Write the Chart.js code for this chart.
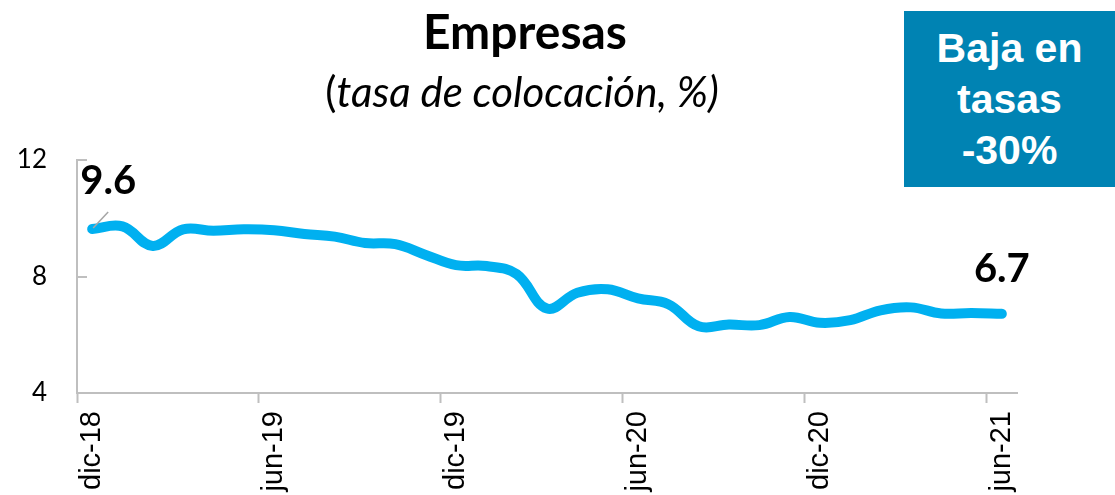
<!DOCTYPE html>
<html><head><meta charset="utf-8">
<script src="https://cdn.jsdelivr.net/npm/chart.js@4.4.1/dist/chart.umd.min.js"></script>
<style>
html,body{margin:0;padding:0;background:#fff;}
#wrap{position:relative;width:1115px;height:495px;overflow:hidden;background:#fff;}
#c{position:absolute;left:0;top:0;}
#title{position:absolute;left:275px;width:500px;top:6px;text-align:center;font-family:Lato,sans-serif;font-weight:700;font-size:48px;line-height:50px;color:#000;}
#subtitle{position:absolute;left:222px;width:600px;top:66px;text-align:center;font-family:Lato,sans-serif;font-size:42px;line-height:50px;color:#000;}
#subtitle i{font-style:italic;}
#box{position:absolute;left:904px;top:11px;width:211px;height:176px;background:#0083B3;color:#fff;text-align:center;font-family:"Liberation Sans",Arial,sans-serif;font-weight:700;font-size:41px;line-height:51px;}
#box div{padding-top:12px;}
</style></head>
<body>
<div id="wrap">
<canvas id="c" width="1115" height="495"></canvas>
<div id="title">Empresas</div>
<div id="subtitle">(<i>tasa de colocación, %)</i></div>
<div id="box"><div>Baja en<br>tasas<br>-30%</div></div>
</div>
<script>
const months = ['dic-18','ene-19','feb-19','mar-19','abr-19','may-19','jun-19','jul-19','ago-19','sep-19','oct-19','nov-19',
  'dic-19','ene-20','feb-20','mar-20','abr-20','may-20','jun-20','jul-20','ago-20','sep-20','oct-20','nov-20',
  'dic-20','ene-21','feb-21','mar-21','abr-21','may-21','jun-21'];
const tasa = [9.63, 9.72, 9.05, 9.62, 9.57, 9.62, 9.59, 9.46, 9.37, 9.15, 9.11, 8.74, 8.39, 8.36, 8.08,
  6.90, 7.44, 7.56, 7.25, 7.05, 6.29, 6.35, 6.33, 6.61, 6.41, 6.50, 6.84, 6.94, 6.73, 6.75, 6.72];
const yTicks = [4, 8, 12];
const labelEvery = 6;
const labelledPoints = [0, tasa.length - 1];

const annot = {
  id: 'annot',
  afterDatasetsDraw(chart) {
    const ctx = chart.ctx;
    const meta = chart.getDatasetMeta(0);
    const ys = chart.scales.y;
    const left = chart.chartArea.left;
    ctx.save();
    ctx.strokeStyle = '#BFBFBF';
    ctx.lineWidth = 2;
    yTicks.forEach(v => {
      if (v === ys.min) return;
      const y = Math.round(ys.getPixelForValue(v));
      ctx.beginPath(); ctx.moveTo(left, y); ctx.lineTo(left + 10, y); ctx.stroke();
    });
    ctx.fillStyle = '#000';
    ctx.font = '700 40px Lato';
    ctx.textAlign = 'center';
    ctx.textBaseline = 'middle';
    labelledPoints.forEach((i, k) => {
      const p = meta.data[i];
      const txt = tasa[i].toFixed(1);
      if (k === 0) {
        ctx.fillText(txt, p.x + 16, p.y - 48);
        ctx.strokeStyle = '#A6A6A6';
        ctx.lineWidth = 1.5;
        ctx.beginPath(); ctx.moveTo(p.x + 1, p.y - 1); ctx.lineTo(p.x + 16, p.y - 17); ctx.stroke();
      } else {
        ctx.fillText(txt, p.x, p.y - 45);
      }
    });
    ctx.restore();
  }
};

new Chart(document.getElementById('c'), {
  type: 'line',
  data: {
    labels: months,
    datasets: [{
      data: tasa,
      borderColor: '#00B0F0',
      borderWidth: 10,
      pointRadius: 0,
      tension: 0.4,
      borderCapStyle: 'round',
      borderJoinStyle: 'round',
      fill: false
    }]
  },
  options: {
    responsive: false,
    animation: false,
    devicePixelRatio: 1,
    layout: { padding: { top: 160, right: 98, left: 0, bottom: 0 } },
    plugins: { legend: { display: false }, tooltip: { enabled: false }, title: { display: false } },
    scales: {
      x: {
        type: 'category',
        offset: true,
        grid: {
          offset: true,
          drawOnChartArea: false,
          tickLength: 10,
          tickWidth: 2,
          tickColor: ctx => (ctx.index % labelEvery === 0 && ctx.index < months.length) ? '#BFBFBF' : 'rgba(0,0,0,0)'
        },
        border: { color: '#BFBFBF', width: 2 },
        ticks: {
          autoSkip: false,
          maxRotation: 90,
          minRotation: 90,
          padding: 8,
          color: '#000',
          font: { family: 'Liberation Sans', size: 29 },
          callback: (v, i) => (i % labelEvery === 0 ? months[i] : '')
        },
        afterFit: s => { s.height = 102; }
      },
      y: {
        min: 4,
        max: 12,
        afterBuildTicks: s => { s.ticks = yTicks.map(v => ({ value: v })); },
        grid: { display: false, drawTicks: false },
        border: { color: '#BFBFBF', width: 2 },
        ticks: { padding: 30, color: '#000', font: { family: 'Lato', size: 26 } },
        afterFit: s => { s.width = 77; }
      }
    }
  },
  plugins: [annot]
});
</script>
</body></html>
